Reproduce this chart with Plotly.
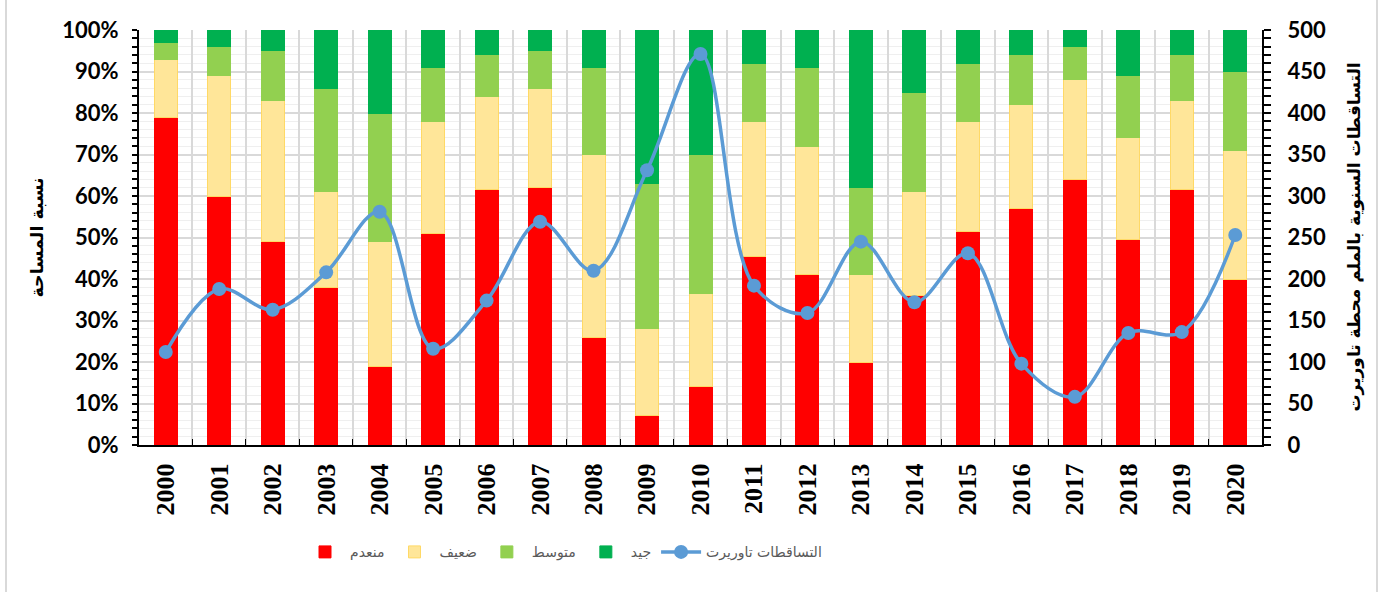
import plotly.graph_objects as go

years = [str(y) for y in range(2000, 2021)]
none_pct = [79, 60, 49, 38, 19, 51, 61.5, 62, 26, 7, 14, 45.5, 41, 20, 36, 51.5, 57, 64, 49.5, 61.5, 40]
weak_pct = [14, 29, 34, 23, 30, 27, 22.5, 24, 44, 21, 22.5, 32.5, 31, 21, 25, 26.5, 25, 24, 24.5, 21.5, 31]
medium_pct = [4, 7, 12, 25, 31, 13, 10, 9, 21, 35, 33.5, 14, 19, 21, 24, 14, 12, 8, 15, 11, 19]
good_pct = [3, 4, 5, 14, 20, 9, 6, 5, 9, 37, 30, 8, 9, 38, 15, 8, 6, 4, 11, 6, 10]
rainfall = [112, 188, 163, 208, 281, 116, 174, 269, 210, 331, 471, 192, 159, 245, 172, 231, 98, 58, 135, 136, 253]

names = ["منعدم", "ضعيف", "متوسط", "جيد"]
colors = ["#FF0000", "#FFE699", "#92D050", "#00B050"]
borders = ["#FF0000", "#FFD966", "#92D050", "#00B050"]
series = [none_pct, weak_pct, medium_pct, good_pct]

fig = go.Figure()
for name, vals, c, bc in zip(names, series, colors, borders):
    fig.add_trace(go.Bar(x=years, y=vals, name=name, marker=dict(color=c, line=dict(color=bc, width=1))))

fig.add_trace(go.Scatter(
    x=years, y=rainfall, name="التساقطات تاوريرت", yaxis="y2",
    mode="lines+markers",
    line=dict(color="#5B9BD5", width=3.5, shape="spline", smoothing=1.0),
    marker=dict(color="#5B9BD5", size=14),
))

tickfont = dict(family="Lato, Open Sans, sans-serif", size=22, color="#000000", weight="bold")

L, R, T, B = 139, 122, 30, 147
W, H = 1384, 592
pw = W - L - R

fig.update_layout(
    width=W, height=H,
    margin=dict(l=L, r=R, t=T, b=B),
    paper_bgcolor="white", plot_bgcolor="white",
    barmode="stack", bargap=0.57,
    showlegend=True,
    legend=dict(orientation="h", x=(300 - L) / pw, xanchor="left", y=-0.22, yanchor="top",
                font=dict(family="DejaVu Sans, sans-serif", size=14, color="#595959"),
                itemwidth=40, traceorder="normal"),
    xaxis=dict(type="category", range=[-0.5, 20.5], tickson="boundaries", ticks="inside", ticklen=6,
               tickcolor="#000", showline=True, linecolor="#000", linewidth=2,
               showgrid=True, gridcolor="#d9d9d9", gridwidth=2,
               tickangle=-90,
               tickfont=dict(family="Liberation Serif, Times New Roman, serif", size=26, color="#000", weight="bold"),
               ticklabelstandoff=6),
    yaxis=dict(range=[0, 100], dtick=10, ticksuffix="%", ticks="outside", ticklen=5,
               tickcolor="#000", tickwidth=2, showline=True, linecolor="#000", linewidth=2,
               showgrid=True, gridcolor="#d9d9d9", gridwidth=1.5,
               minor=dict(dtick=2, ticks="outside", ticklen=5, tickcolor="#000", tickwidth=1.5,
                          showgrid=True, gridcolor="#efefef", gridwidth=1),
               tickfont=tickfont, ticklabelstandoff=9, zeroline=False),
    yaxis2=dict(range=[0, 500], dtick=50, overlaying="y", side="right", ticks="outside",
                ticklen=7, tickcolor="#000", tickwidth=2, showline=True, linecolor="#000", linewidth=2,
                showgrid=False, zeroline=False,
                minor=dict(dtick=10, ticks="outside", ticklen=7, tickcolor="#000", tickwidth=1.5),
                tickfont=tickfont, ticklabelstandoff=12),
    annotations=[
        dict(text="<b>نسبة المساحة</b>", xref="paper", yref="paper",
             x=(36 - L) / pw, y=0.5, xanchor="center", yanchor="middle", textangle=-90,
             showarrow=False, font=dict(family="DejaVu Sans, sans-serif", size=17.5, color="#000")),
        dict(text="<b>التساقطات السنوية بالملم محطة تاوريرت</b>", xref="paper", yref="paper",
             x=(1354 - L) / pw, y=0.5, xanchor="center", yanchor="middle", textangle=-90,
             showarrow=False, font=dict(family="DejaVu Sans, sans-serif", size=17, color="#000")),
    ],
    shapes=[
        dict(type="line", xref="paper", yref="paper", x0=(6 - L) / pw, x1=(6 - L) / pw,
             y0=-0.5, y1=1.2, line=dict(color="#d9d9d9", width=2)),
        dict(type="line", xref="paper", yref="paper", x0=(1377 - L) / pw, x1=(1377 - L) / pw,
             y0=-0.5, y1=1.2, line=dict(color="#d9d9d9", width=2)),
    ],
)

fig.write_html("out.html", config={"displayModeBar": False},
               post_script="document.body.style.margin='0';document.body.style.overflow='hidden';")
